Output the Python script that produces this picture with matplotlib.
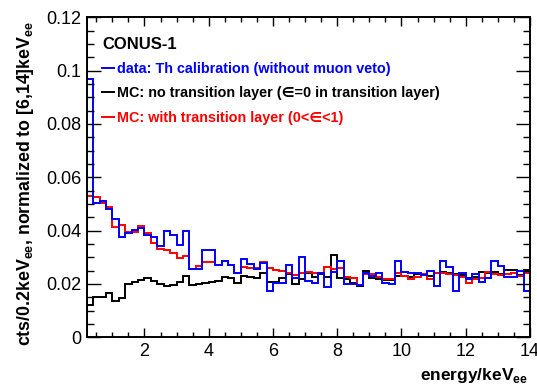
import numpy as np
import matplotlib.pyplot as plt
from matplotlib.ticker import MultipleLocator, FuncFormatter

plt.rcParams['font.family'] = ['Liberation Sans', 'DejaVu Sans']
plt.rcParams['mathtext.fontset'] = 'custom'
plt.rcParams['mathtext.rm'] = 'Liberation Sans'
plt.rcParams['mathtext.bf'] = 'Liberation Sans:bold'

# 0.2 keV bins from 0.2 to 14 keV
bin_edges = np.round(np.linspace(0.2, 14.0, 70), 1)

# Th calibration data (without muon veto); first value is the 0-0.2 keV bin, off scale
data_underflow = 0.13
data_th = [
    0.0970, 0.0505, 0.0512, 0.0483, 0.0442, 0.0375, 0.0390, 0.0402, 0.0410, 0.0383,
    0.0375, 0.0342, 0.0400, 0.0385, 0.0345, 0.0400, 0.0258, 0.0258, 0.0327, 0.0327,
    0.0271, 0.0287, 0.0271, 0.0242, 0.0293, 0.0274, 0.0255, 0.0280, 0.0175, 0.0205,
    0.0205, 0.0272, 0.0221, 0.0303, 0.0212, 0.0205, 0.0243, 0.0190, 0.0245, 0.0288,
    0.0200, 0.0200, 0.0195, 0.0240, 0.0230, 0.0242, 0.0205, 0.0200, 0.0288, 0.0246,
    0.0242, 0.0242, 0.0235, 0.0250, 0.0193, 0.0288, 0.0265, 0.0175, 0.0240, 0.0220,
    0.0236, 0.0207, 0.0222, 0.0288, 0.0267, 0.0225, 0.0225, 0.0247, 0.0175,
]

# MC, eps = 0 in the transition layer
mc_no_layer = [
    0.0120, 0.0152, 0.0152, 0.0168, 0.0138, 0.0146, 0.0200, 0.0207, 0.0215, 0.0222,
    0.0212, 0.0199, 0.0193, 0.0196, 0.0206, 0.0230, 0.0196, 0.0200, 0.0205, 0.0208,
    0.0212, 0.0227, 0.0221, 0.0203, 0.0230, 0.0228, 0.0221, 0.0243, 0.0209, 0.0209,
    0.0222, 0.0238, 0.0200, 0.0218, 0.0243, 0.0228, 0.0238, 0.0228, 0.0309, 0.0222,
    0.0220, 0.0205, 0.0193, 0.0248, 0.0222, 0.0218, 0.0216, 0.0215, 0.0230, 0.0230,
    0.0228, 0.0238, 0.0238, 0.0230, 0.0243, 0.0245, 0.0240, 0.0238, 0.0235, 0.0222,
    0.0228, 0.0246, 0.0240, 0.0244, 0.0238, 0.0252, 0.0252, 0.0235, 0.0252,
]

# MC, 0 < eps < 1 in the transition layer
mc_with_layer = [
    0.0530, 0.0527, 0.0505, 0.0490, 0.0412, 0.0422, 0.0396, 0.0395, 0.0418, 0.0390,
    0.0352, 0.0332, 0.0328, 0.0318, 0.0298, 0.0305, 0.0258, 0.0268, 0.0283, 0.0283,
    0.0272, 0.0285, 0.0270, 0.0240, 0.0265, 0.0259, 0.0259, 0.0284, 0.0259, 0.0253,
    0.0250, 0.0240, 0.0232, 0.0240, 0.0246, 0.0242, 0.0240, 0.0262, 0.0255, 0.0259,
    0.0225, 0.0222, 0.0198, 0.0238, 0.0236, 0.0228, 0.0220, 0.0217, 0.0240, 0.0230,
    0.0220, 0.0228, 0.0238, 0.0217, 0.0240, 0.0243, 0.0238, 0.0232, 0.0228, 0.0205,
    0.0220, 0.0222, 0.0246, 0.0236, 0.0232, 0.0236, 0.0240, 0.0230, 0.0240,
]

fig = plt.figure(figsize=(5.37, 3.90), dpi=100)
ax = fig.add_axes([0.1614, 0.1351, 0.8255, 0.8205])

lw = 1.4
h_black = ax.stairs(mc_no_layer, bin_edges, baseline=0, color='black', lw=lw)
h_red = ax.stairs(mc_with_layer, bin_edges, baseline=0, color='red', lw=lw)
h_blue = ax.stairs(np.r_[data_underflow, data_th], np.r_[0.0, bin_edges],
                   baseline=0, color='blue', lw=lw)

ax.set_xlim(0.2, 14.0)
ax.set_ylim(0, 0.12)

ax.xaxis.set_major_locator(MultipleLocator(2))
ax.xaxis.set_minor_locator(MultipleLocator(0.5))
ax.yaxis.set_major_locator(MultipleLocator(0.02))
ax.yaxis.set_minor_locator(MultipleLocator(0.005))
ax.yaxis.set_major_formatter(FuncFormatter(lambda v, p: '%g' % round(v, 3)))

ax.tick_params(which='both', direction='in', top=True, right=True, width=1,
               labelsize=13)
ax.tick_params(axis='x', which='major', length=6.5, pad=4)
ax.tick_params(axis='x', which='minor', length=3.5)
ax.tick_params(axis='y', which='major', length=10, pad=4)
ax.tick_params(axis='y', which='minor', length=5)
for sp in ax.spines.values():
    sp.set_linewidth(1.4)

ax.set_xlabel(r'energy/keV$_{\mathbf{ee}}$', fontsize=12.5, fontweight='bold',
              loc='right')
ax.xaxis.set_label_coords(0.995, -0.09)
ax.set_ylabel(r'cts/0.2keV$_{\mathbf{ee}}$, normalized to [6,14]keV$_{\mathbf{ee}}$',
              fontsize=12.8, fontweight='bold', loc='top')
ax.yaxis.set_label_coords(-0.114, 0.99)

labels = ['data: Th calibration (without muon veto)',
          'MC: no transition layer (\u2208=0 in transition layer)',
          'MC: with transition layer (0<\u2208<1)']
colors = ['blue', 'black', 'red']
leg = ax.legend([h_blue, h_black, h_red], labels, loc='upper left',
                bbox_to_anchor=(0.035, 0.94), frameon=False, title='CONUS-1',
                alignment='left', prop={'size': 10.4, 'weight': 'bold'},
                handlelength=0.8, handletextpad=0.2, labelspacing=0.72,
                borderaxespad=0, borderpad=0)
leg.get_title().set_fontweight('bold')
leg.get_title().set_fontsize(12)
for t, c in zip(leg.get_texts(), colors):
    t.set_color(c)

fig.savefig('out.png', dpi=100)
